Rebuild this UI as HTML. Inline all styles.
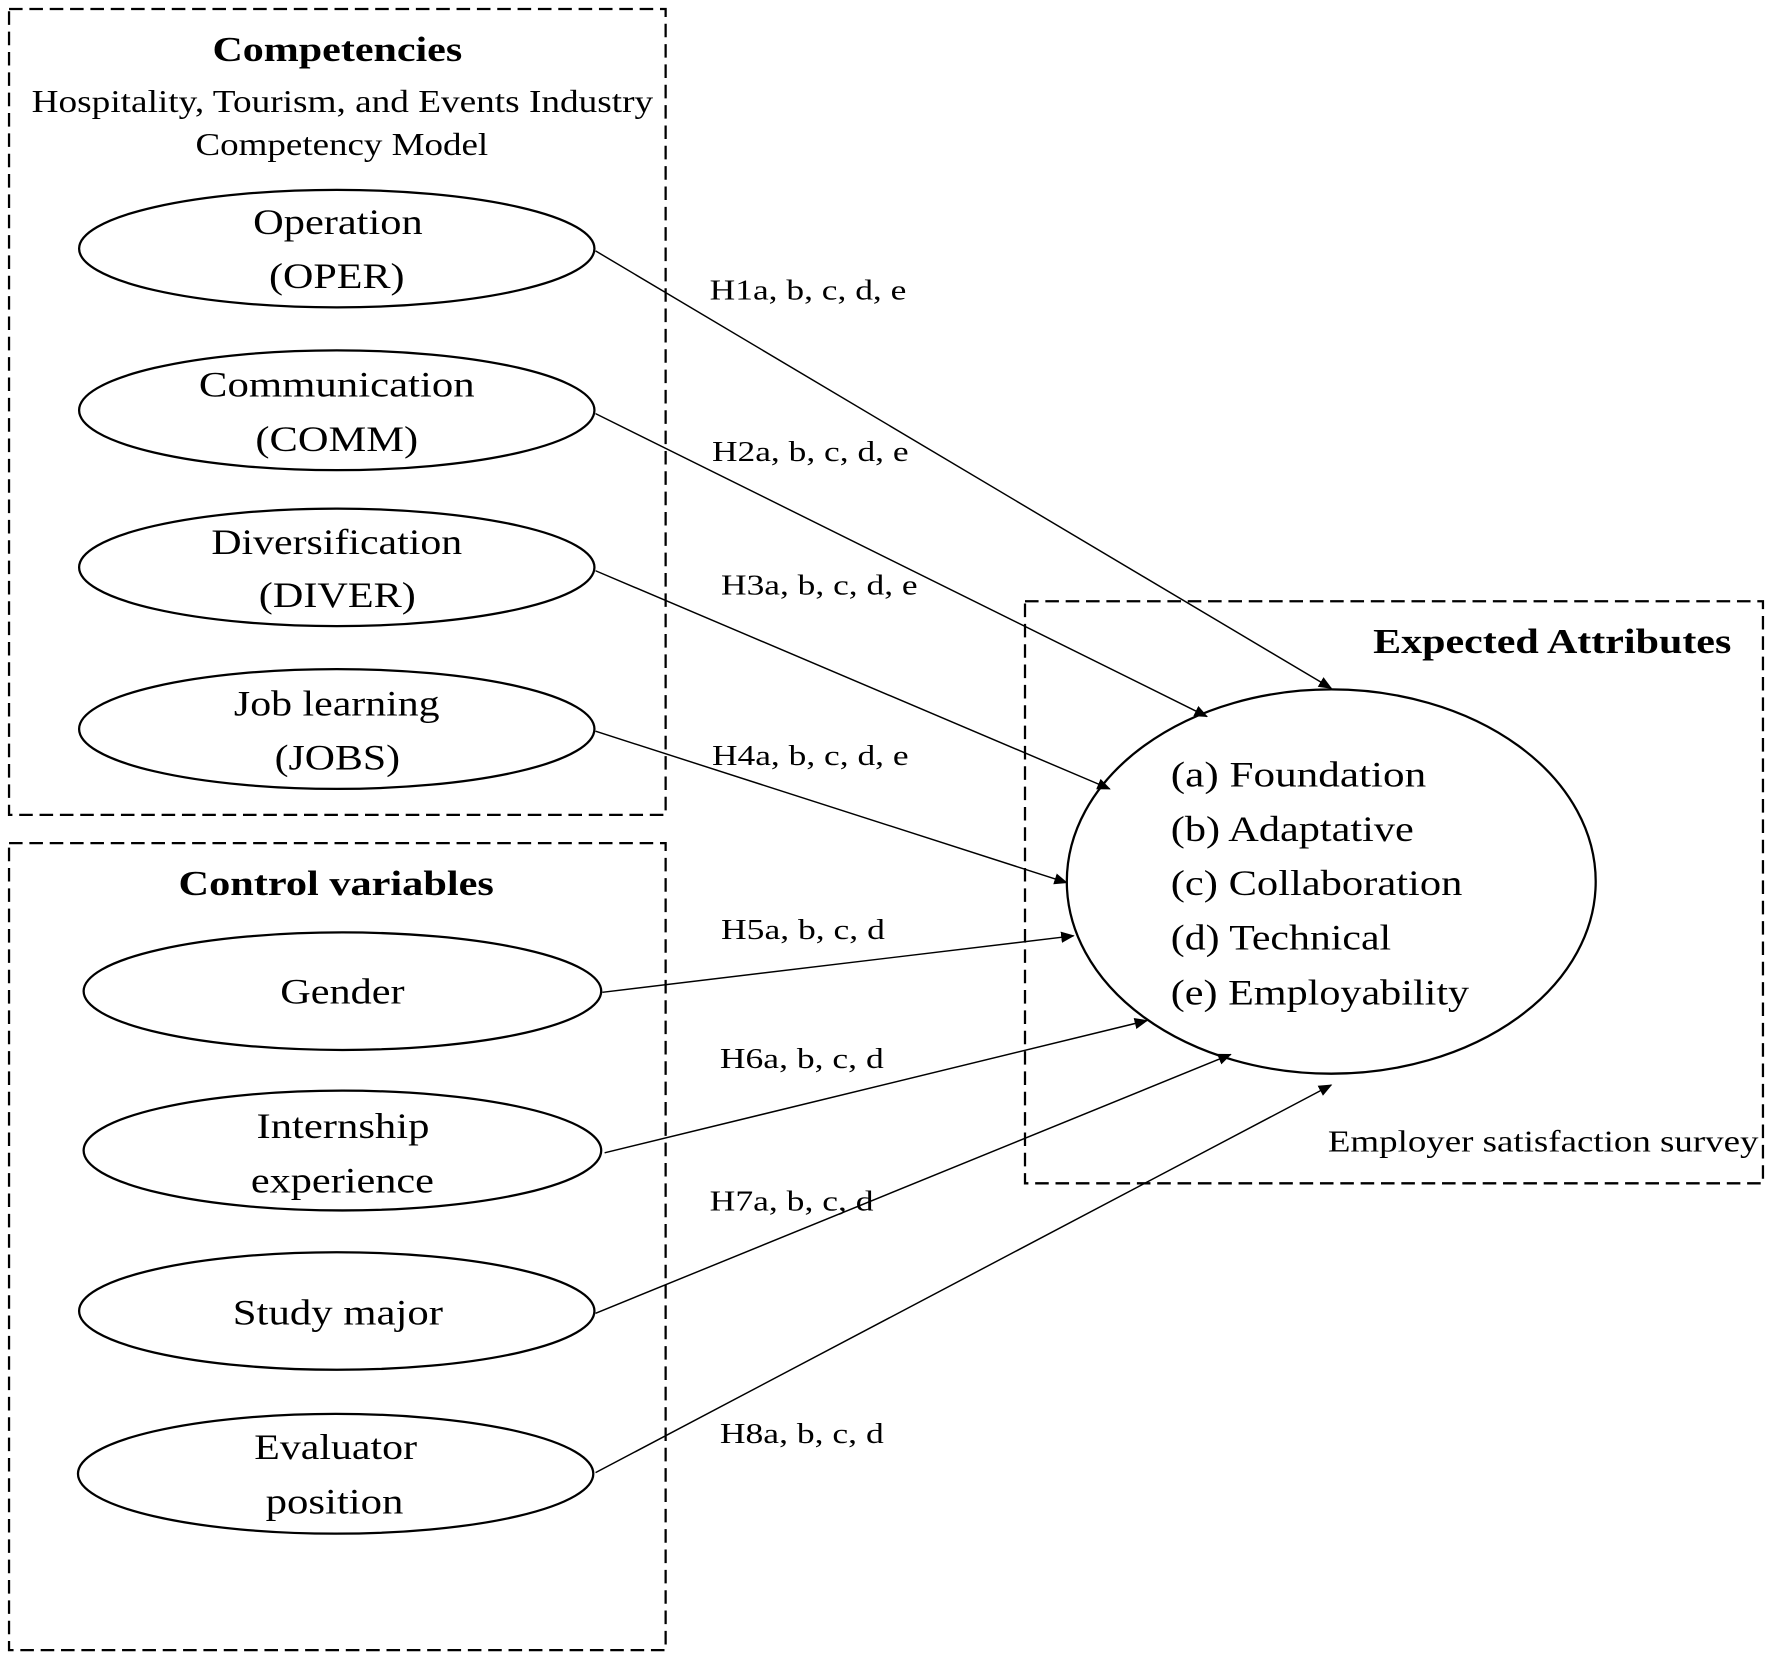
<!DOCTYPE html>
<html><head><meta charset="utf-8"><style>
html,body{margin:0;padding:0;background:#fff;}
svg{display:block;}
text{font-family:"Liberation Serif",serif;fill:#000;}
</style></head><body>
<svg width="1772" height="1658" viewBox="0 0 1568 1467" preserveAspectRatio="none" xmlns="http://www.w3.org/2000/svg">
<defs><marker id="a" markerWidth="12" markerHeight="10" refX="11" refY="5" orient="auto" markerUnits="userSpaceOnUse"><path d="M0,0 L12,5 L0,10 z" fill="#000"/></marker></defs>
<g fill="none" stroke="#000" stroke-width="2" stroke-dasharray="12,6">
<rect x="8" y="8" width="581" height="713"/>
<rect x="8" y="746" width="581" height="714"/>
<rect x="907" y="532" width="653" height="515"/>
</g>
<g fill="none" stroke="#000" stroke-width="2">
<ellipse cx="298" cy="220" rx="228" ry="52"/>
<ellipse cx="298" cy="363" rx="228" ry="53"/>
<ellipse cx="298" cy="502" rx="228" ry="52"/>
<ellipse cx="298" cy="645" rx="228" ry="53"/>
<ellipse cx="303" cy="877" rx="229" ry="52"/>
<ellipse cx="303" cy="1018" rx="229" ry="53"/>
<ellipse cx="298" cy="1160" rx="228" ry="52"/>
<ellipse cx="297" cy="1304" rx="228" ry="53"/>
<ellipse cx="1178" cy="780" rx="234" ry="170"/>
</g>
<g stroke="#000" stroke-width="1.3" marker-end="url(#a)">
<line x1="527" y1="222" x2="1178" y2="609"/>
<line x1="527" y1="366" x2="1068" y2="634"/>
<line x1="527" y1="505" x2="982" y2="698"/>
<line x1="527" y1="647" x2="944" y2="781"/>
<line x1="533" y1="878" x2="950" y2="828"/>
<line x1="535" y1="1020" x2="1015" y2="903"/>
<line x1="527" y1="1162" x2="1089" y2="933"/>
<line x1="527" y1="1303" x2="1178" y2="960"/>
</g>
<g lengthAdjust="spacingAndGlyphs">
<text x="188" y="54" font-size="31" font-weight="bold" textLength="221" lengthAdjust="spacingAndGlyphs">Competencies</text>
<text x="28" y="99" font-size="28" textLength="550" lengthAdjust="spacingAndGlyphs">Hospitality, Tourism, and Events Industry</text>
<text x="173" y="137" font-size="28" textLength="259" lengthAdjust="spacingAndGlyphs">Competency Model</text>
<text x="158" y="792" font-size="31" font-weight="bold" textLength="279" lengthAdjust="spacingAndGlyphs">Control variables</text>
<g font-size="32">
<text x="224" y="207" textLength="150" lengthAdjust="spacingAndGlyphs">Operation</text>
<text x="238" y="255" textLength="120" lengthAdjust="spacingAndGlyphs">(OPER)</text>
<text x="176" y="351" textLength="244" lengthAdjust="spacingAndGlyphs">Communication</text>
<text x="226" y="399" textLength="144" lengthAdjust="spacingAndGlyphs">(COMM)</text>
<text x="187" y="490" textLength="222" lengthAdjust="spacingAndGlyphs">Diversification</text>
<text x="229" y="537" textLength="139" lengthAdjust="spacingAndGlyphs">(DIVER)</text>
<text x="207" y="633" textLength="182" lengthAdjust="spacingAndGlyphs">Job learning</text>
<text x="243" y="681" textLength="111" lengthAdjust="spacingAndGlyphs">(JOBS)</text>
<text x="248" y="888" textLength="110" lengthAdjust="spacingAndGlyphs">Gender</text>
<text x="227" y="1007" textLength="153" lengthAdjust="spacingAndGlyphs">Internship</text>
<text x="222" y="1055" textLength="162" lengthAdjust="spacingAndGlyphs">experience</text>
<text x="206" y="1172" textLength="186" lengthAdjust="spacingAndGlyphs">Study major</text>
<text x="225" y="1291" textLength="144" lengthAdjust="spacingAndGlyphs">Evaluator</text>
<text x="235" y="1339" textLength="122" lengthAdjust="spacingAndGlyphs">position</text>
</g>
<text x="1215" y="578" font-size="31" font-weight="bold" textLength="317" lengthAdjust="spacingAndGlyphs">Expected Attributes</text>
<g font-size="32">
<text x="1036" y="696" textLength="226" lengthAdjust="spacingAndGlyphs">(a) Foundation</text>
<text x="1036" y="744" textLength="215" lengthAdjust="spacingAndGlyphs">(b) Adaptative</text>
<text x="1036" y="792" textLength="258" lengthAdjust="spacingAndGlyphs">(c) Collaboration</text>
<text x="1036" y="840" textLength="195" lengthAdjust="spacingAndGlyphs">(d) Technical</text>
<text x="1036" y="889" textLength="264" lengthAdjust="spacingAndGlyphs">(e) Employability</text>
</g>
<text x="1175" y="1019" font-size="27" textLength="381" lengthAdjust="spacingAndGlyphs">Employer satisfaction survey</text>
<g font-size="25">
<text x="628" y="265" textLength="174" lengthAdjust="spacingAndGlyphs">H1a, b, c, d, e</text>
<text x="630" y="408" textLength="174" lengthAdjust="spacingAndGlyphs">H2a, b, c, d, e</text>
<text x="638" y="526" textLength="174" lengthAdjust="spacingAndGlyphs">H3a, b, c, d, e</text>
<text x="630" y="677" textLength="174" lengthAdjust="spacingAndGlyphs">H4a, b, c, d, e</text>
<text x="638" y="831" textLength="145" lengthAdjust="spacingAndGlyphs">H5a, b, c, d</text>
<text x="637" y="945" textLength="145" lengthAdjust="spacingAndGlyphs">H6a, b, c, d</text>
<text x="628" y="1071" textLength="145" lengthAdjust="spacingAndGlyphs">H7a, b, c, d</text>
<text x="637" y="1277" textLength="145" lengthAdjust="spacingAndGlyphs">H8a, b, c, d</text>
</g>
</g>
</svg>
</body></html>
